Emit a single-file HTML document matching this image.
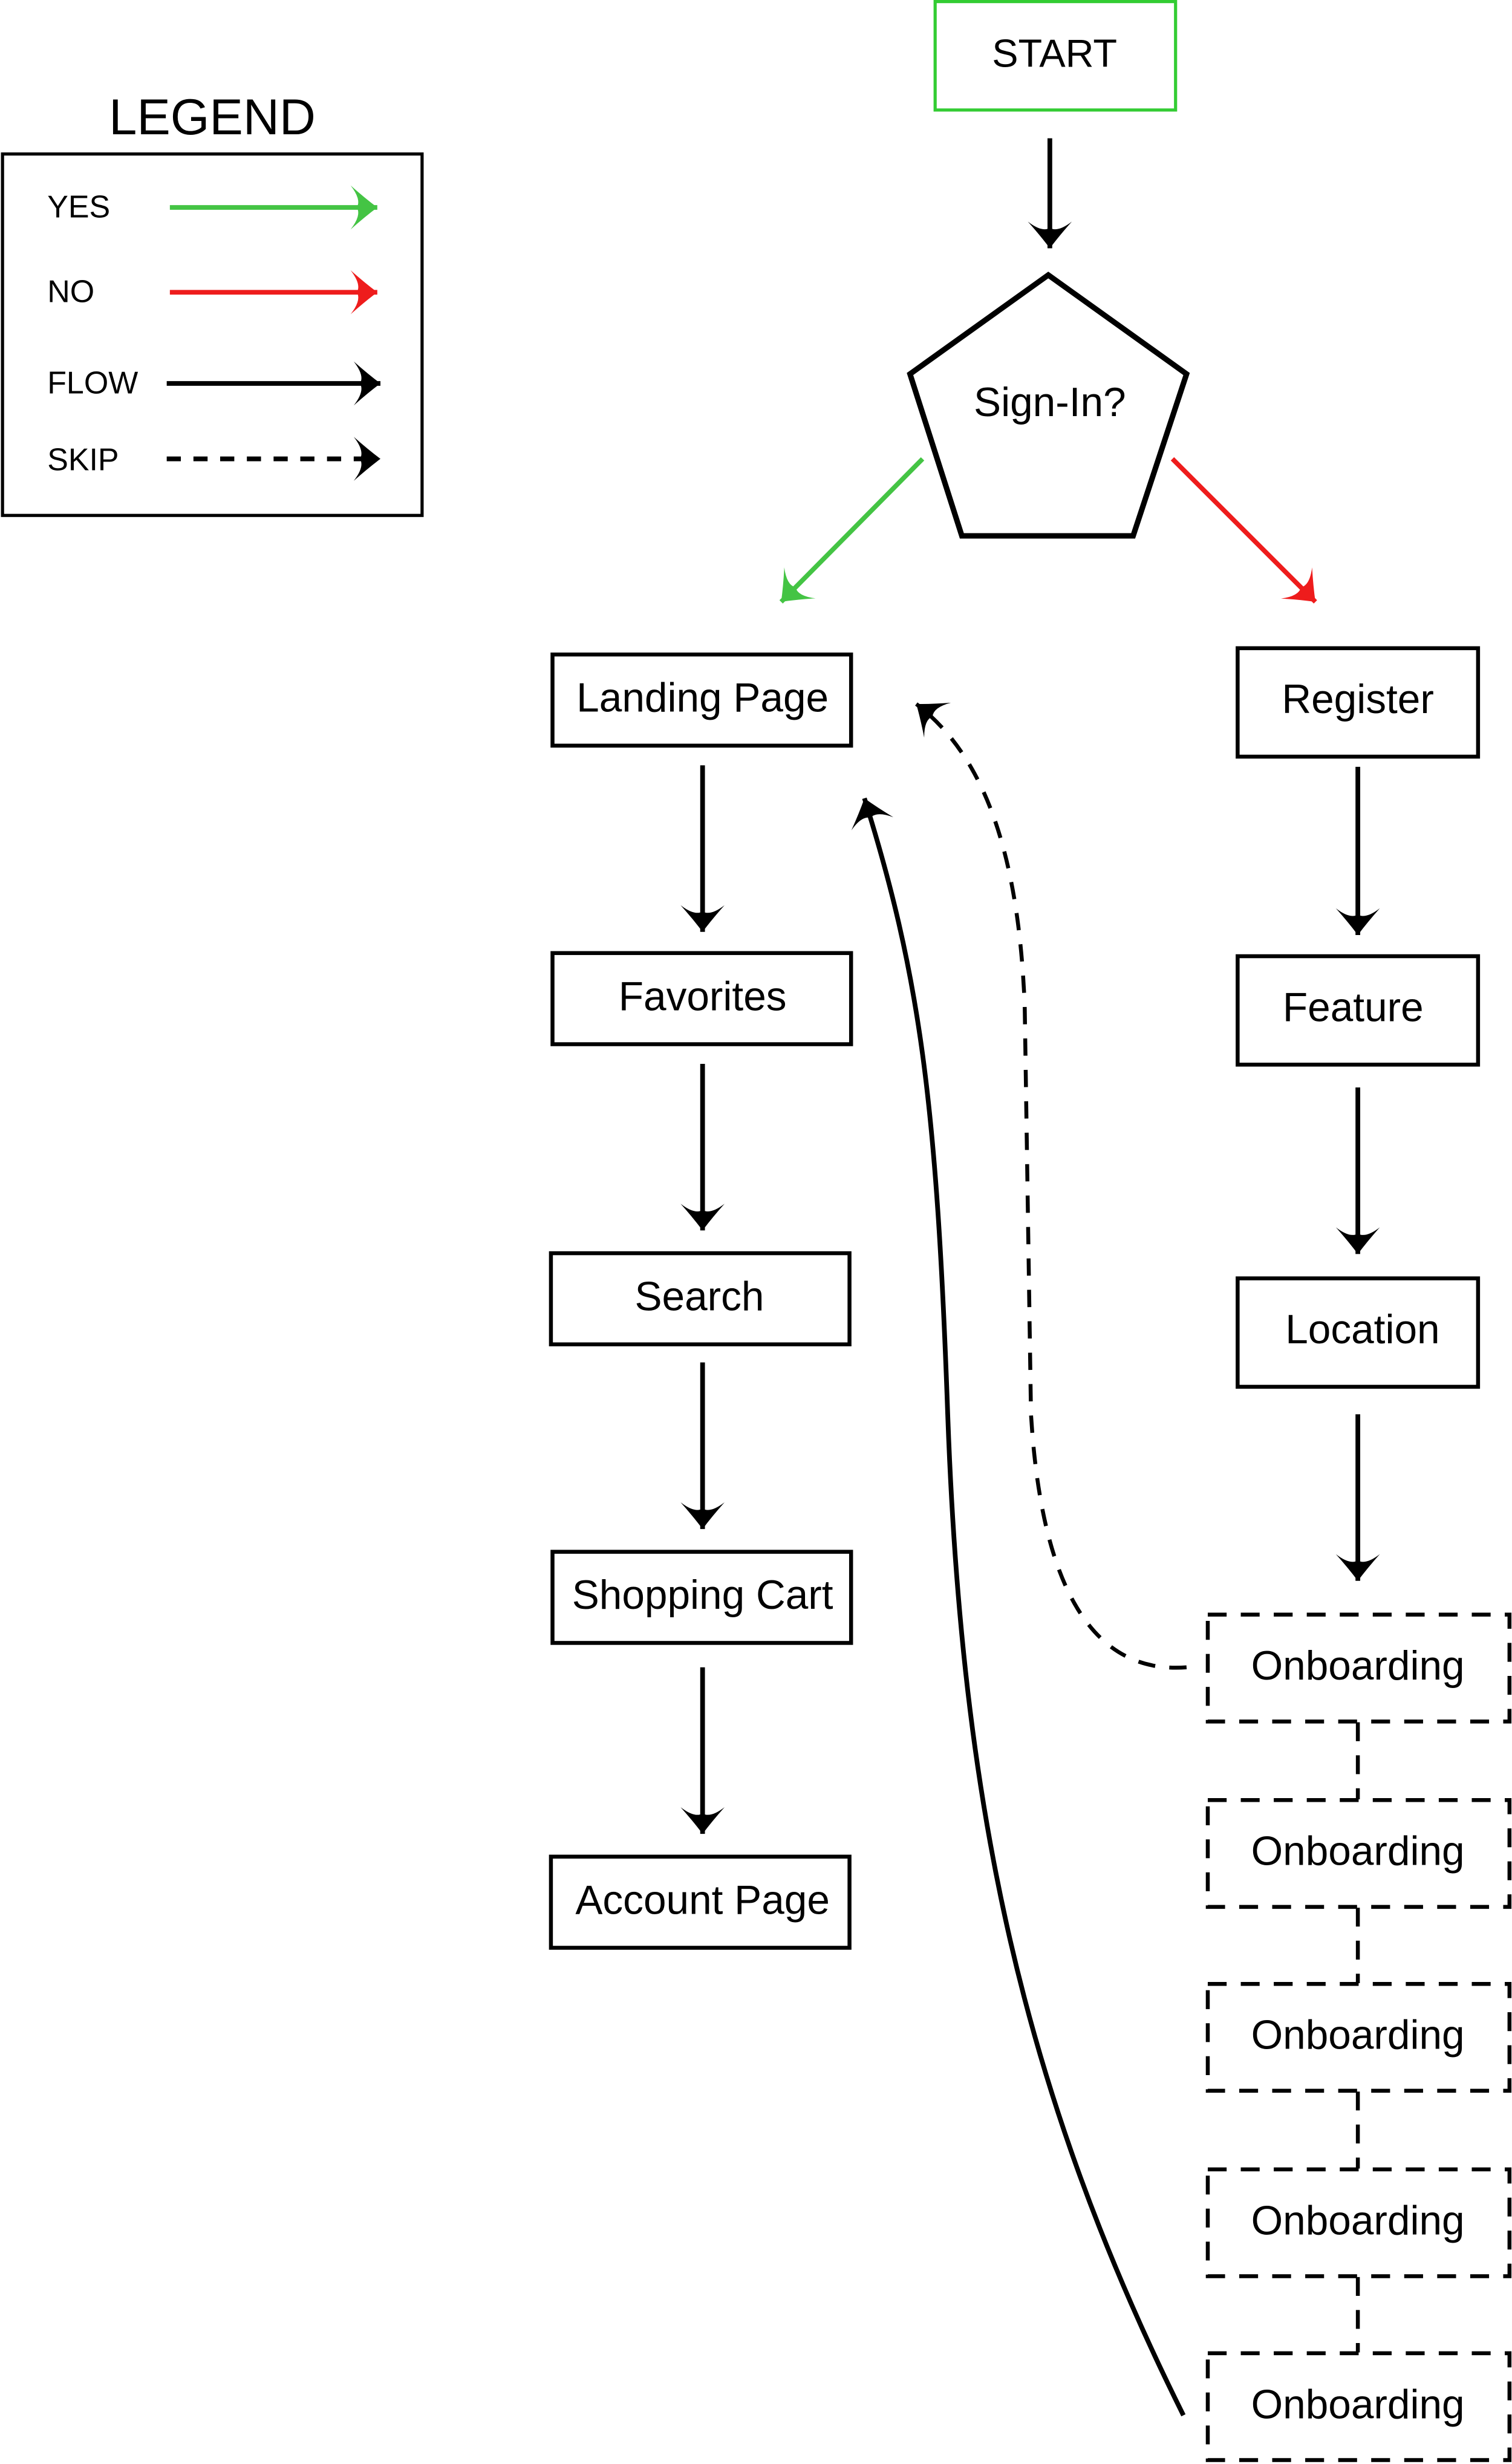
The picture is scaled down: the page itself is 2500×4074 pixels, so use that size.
<!DOCTYPE html>
<html><head><meta charset="utf-8"><style>
html,body{margin:0;padding:0;background:#fff;}
svg{display:block;}
text{font-family:"Liberation Sans",sans-serif;text-anchor:middle;dominant-baseline:middle;fill:#000;}
</style></head><body>
<svg width="2500" height="4074" viewBox="0 0 962 1568" xmlns="http://www.w3.org/2000/svg">
<defs>
<marker id="ak" markerUnits="userSpaceOnUse" viewBox="-18 -15 19 30" refX="0" refY="0" markerWidth="19" markerHeight="30" orient="auto" overflow="visible">
<path d="M0,0 Q-8,-6 -17,-14 Q-10,-5 -13,0 Q-10,5 -17,14 Q-8,6 0,0 Z" fill="#000"/></marker>
<marker id="ag" markerUnits="userSpaceOnUse" viewBox="-18 -15 19 30" refX="0" refY="0" markerWidth="19" markerHeight="30" orient="auto" overflow="visible">
<path d="M0,0 Q-8,-6 -17,-14 Q-10,-5 -13,0 Q-10,5 -17,14 Q-8,6 0,0 Z" fill="#44c444"/></marker>
<marker id="ar" markerUnits="userSpaceOnUse" viewBox="-18 -15 19 30" refX="0" refY="0" markerWidth="19" markerHeight="30" orient="auto" overflow="visible">
<path d="M0,0 Q-8,-6 -17,-14 Q-10,-5 -13,0 Q-10,5 -17,14 Q-8,6 0,0 Z" fill="#ee1c1c"/></marker>
</defs>
<rect width="962" height="1568" fill="#fff"/>
<!-- legend -->
<text x="135" y="77" font-size="32">LEGEND</text>
<rect x="1.5" y="98" width="267" height="230" fill="none" stroke="#000" stroke-width="2"/>
<text x="30" y="133" font-size="20" style="text-anchor:start">YES</text>
<line x1="108" y1="132" x2="240" y2="132" stroke="#44c444" stroke-width="3" marker-end="url(#ag)"/>
<text x="30" y="187" font-size="20" style="text-anchor:start">NO</text>
<line x1="108" y1="186" x2="240" y2="186" stroke="#ee1c1c" stroke-width="3" marker-end="url(#ar)"/>
<text x="30" y="245" font-size="20" style="text-anchor:start">FLOW</text>
<line x1="106" y1="244" x2="242" y2="244" stroke="#000" stroke-width="3" marker-end="url(#ak)"/>
<text x="30" y="294" font-size="20" style="text-anchor:start">SKIP</text>
<line x1="106" y1="292" x2="242" y2="292" stroke="#000" stroke-width="3" stroke-dasharray="9,8" marker-end="url(#ak)"/>
<!-- start -->
<rect x="595" y="1" width="153" height="69" fill="none" stroke="#33cc33" stroke-width="2"/>
<text x="671" y="36" font-size="25">START</text>
<line x1="668" y1="88" x2="668" y2="158" stroke="#000" stroke-width="3" marker-end="url(#ak)"/>
<polygon points="667,175 755,238 721,341 612,341 579,238" fill="none" stroke="#000" stroke-width="3.5"/>
<text x="668" y="258" font-size="26">Sign-In?</text>
<line x1="587" y1="292" x2="497" y2="383" stroke="#44c444" stroke-width="3" marker-end="url(#ag)"/>
<line x1="746" y1="292" x2="837" y2="383" stroke="#ee1c1c" stroke-width="3" marker-end="url(#ar)"/>
<!-- left column -->
<g fill="none" stroke="#000" stroke-width="2.5">
<rect x="351.5" y="416.5" width="190" height="58"/>
<rect x="351.5" y="606.5" width="190" height="58"/>
<rect x="350.5" y="797.5" width="190" height="58"/>
<rect x="351.5" y="987.5" width="190" height="58"/>
<rect x="350.5" y="1181.5" width="190" height="58"/>
<rect x="787.5" y="412.5" width="153" height="69"/>
<rect x="787.5" y="608.5" width="153" height="69"/>
<rect x="787.5" y="813.5" width="153" height="69"/>
</g>
<g font-size="26">
<text x="447" y="446">Landing Page</text>
<text x="447" y="636">Favorites</text>
<text x="445" y="827">Search</text>
<text x="447" y="1017">Shopping Cart</text>
<text x="447" y="1211">Account Page</text>
<text x="864" y="447">Register</text>
<text x="861" y="643">Feature</text>
<text x="867" y="848">Location</text>
</g>
<g stroke="#000" stroke-width="3">
<line x1="447" y1="487" x2="447" y2="593" marker-end="url(#ak)"/>
<line x1="447" y1="677" x2="447" y2="783" marker-end="url(#ak)"/>
<line x1="447" y1="867" x2="447" y2="973" marker-end="url(#ak)"/>
<line x1="447" y1="1061" x2="447" y2="1167" marker-end="url(#ak)"/>
<line x1="864" y1="488" x2="864" y2="595" marker-end="url(#ak)"/>
<line x1="864" y1="692" x2="864" y2="798" marker-end="url(#ak)"/>
<line x1="864" y1="900" x2="864" y2="1006" marker-end="url(#ak)"/>
</g>
<!-- onboarding -->
<g fill="none" stroke="#000" stroke-width="2.5" stroke-dasharray="12,9">
<rect x="768.5" y="1027.5" width="192" height="68"/>
<rect x="768.5" y="1145.5" width="192" height="68"/>
<rect x="768.5" y="1262.5" width="192" height="68"/>
<rect x="768.5" y="1380.5" width="192" height="68"/>
<rect x="768.5" y="1497.5" width="192" height="68"/>
<line x1="864" y1="1096" x2="864" y2="1145"/>
<line x1="864" y1="1214" x2="864" y2="1262"/>
<line x1="864" y1="1331" x2="864" y2="1380"/>
<line x1="864" y1="1449" x2="864" y2="1497"/>
</g>
<g font-size="26">
<text x="864" y="1062">Onboarding</text>
<text x="864" y="1180">Onboarding</text>
<text x="864" y="1297">Onboarding</text>
<text x="864" y="1415">Onboarding</text>
<text x="864" y="1532">Onboarding</text>
</g>
<path d="M755,1061 C690,1066 662,1000 656,900 L652,640 C648,540 625,480 583,448" fill="none" stroke="#000" stroke-width="2.5" stroke-dasharray="11,9" marker-end="url(#ak)"/>
<path d="M753,1537 C650,1330 612,1150 603,900 C596,700 585,620 550,508" fill="none" stroke="#000" stroke-width="3" marker-end="url(#ak)"/>
</svg>
</body></html>
